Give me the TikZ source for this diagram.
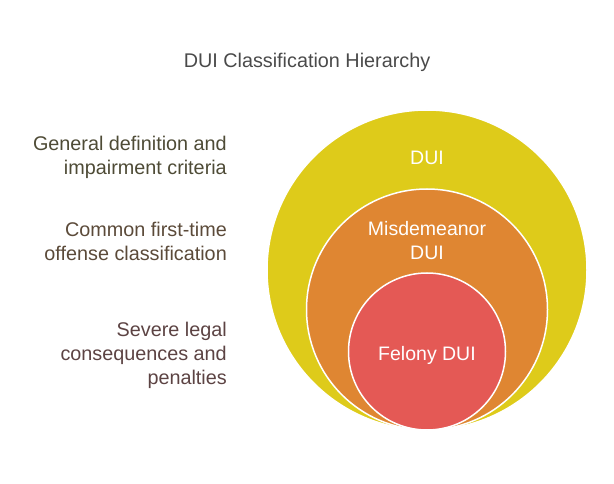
\documentclass[tikz,border=0pt]{standalone}
\usepackage{fontspec}
\setmainfont{Liberation Sans}
\definecolor{duiyellow}{HTML}{DECB1A}
\definecolor{duiorange}{HTML}{DF8632}
\definecolor{duired}{HTML}{E45955}
\definecolor{titlegray}{HTML}{4A4A4A}
\definecolor{noteA}{HTML}{4E4B36}
\definecolor{noteB}{HTML}{5B4A39}
\definecolor{noteC}{HTML}{5C4343}
\tikzset{
  ring/.style={circle,draw=white,line width=1.5pt,inner sep=0pt},
  ringtext/.style={text=white,font=\fontsize{19.5}{24}\selectfont,align=center},
  note/.style={anchor=east,align=right,inner sep=0pt,font=\fontsize{19.8}{24}\selectfont}
}
\begin{document}
\begin{tikzpicture}[x=1pt,y=1pt]
\useasboundingbox (0,0) rectangle (614,483);
\node (title) at (307,421) [text=titlegray,font=\fontsize{19.8}{24}\selectfont] {DUI Classification Hierarchy};
\node[ring,fill=duiyellow,minimum size=320pt] (outer) at (427,213) {};
\node[ring,fill=duiorange,minimum size=241pt] (middle) at (427,173.5) {};
\node[ring,fill=duired,minimum size=157pt] (inner) at (427,131.5) {};
\node[ringtext] (outerlabel) at (427,325) {DUI};
\node[ringtext] (middlelabel) at (427,242) {Misdemeanor\\DUI};
\node[ringtext] (innerlabel) at (427,128) {Felony DUI};
\foreach\n/\y/\c/\t in {genA/326/noteA/{General definition and\\impairment criteria},
                       genB/242/noteB/{Common first-time\\offense classification},
                       genC/128/noteC/{Severe legal\\consequences and\\penalties}} {
  \node[note,text=\c] (\n) at (227,\y) {\t};
}
\end{tikzpicture}
\end{document}
